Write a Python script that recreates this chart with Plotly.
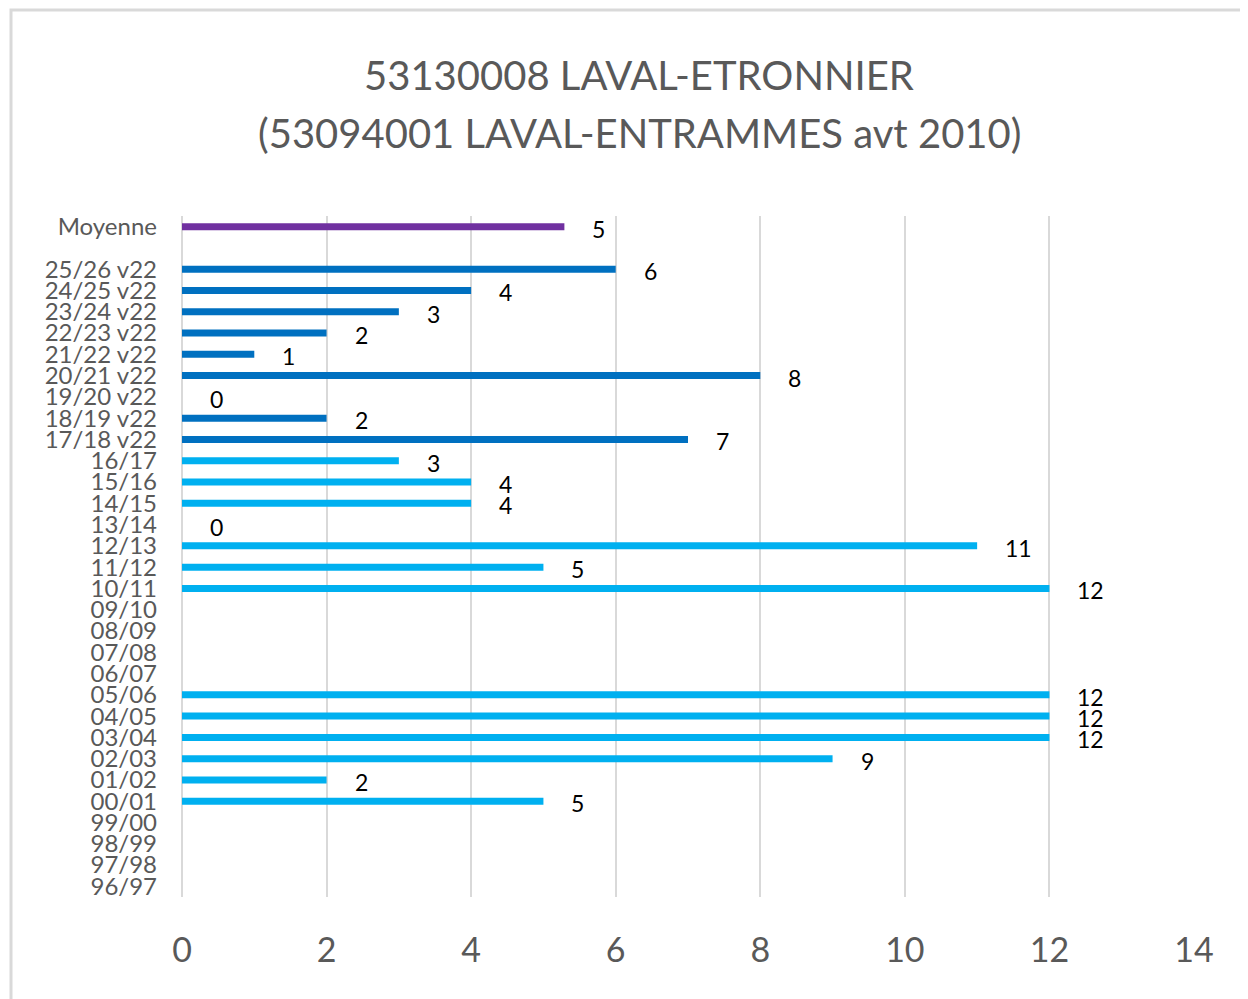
import plotly.graph_objects as go

# ---- data ----
seasons = ["96/97", "97/98", "98/99", "99/00", "00/01", "01/02", "02/03", "03/04",
           "04/05", "05/06", "06/07", "07/08", "08/09", "09/10", "10/11", "11/12",
           "12/13", "13/14", "14/15", "15/16", "16/17"]
season_values = [None, None, None, None, 5, 2, 9, 12, 12, 12, None, None, None, None,
                 12, 5, 11, 0, 4, 4, 3]

v22_seasons = ["17/18 v22", "18/19 v22", "19/20 v22", "20/21 v22", "21/22 v22",
               "22/23 v22", "23/24 v22", "24/25 v22", "25/26 v22"]
v22_values = [7, 2, 0, 8, 1, 2, 3, 4, 6]

mean_label = "Moyenne"
mean_value = 5.29
mean_text = "5"

title_line1 = "53130008 LAVAL-ETRONNIER"
title_line2 = "(53094001 LAVAL-ENTRAMMES avt 2010)"
x_ticks = [0, 2, 4, 6, 8, 10, 12, 14]

# ---- positions ----
pos_seasons = list(range(len(seasons)))
pos_v22 = [len(seasons) + i for i in range(len(v22_seasons))]
pos_mean = pos_v22[-1] + 2

FONT = "Lato"
GREY = "#595959"
BAR_W = 0.33
OFF = 8  # page body margin

fig = go.Figure()
fig.add_trace(go.Bar(x=season_values, y=pos_seasons, orientation="h",
                     width=BAR_W, marker=dict(color="#00B0F0", line_width=0),
                     showlegend=False))
fig.add_trace(go.Bar(x=v22_values, y=pos_v22, orientation="h",
                     width=BAR_W, marker=dict(color="#0070C0", line_width=0),
                     showlegend=False))
fig.add_trace(go.Bar(x=[mean_value], y=[pos_mean], orientation="h",
                     width=BAR_W, marker=dict(color="#7030A0", line_width=0),
                     showlegend=False))

annotations = []
def label(xv, yv, txt):
    annotations.append(dict(x=xv, y=yv, xref="x", yref="y", text=txt,
                            showarrow=False, xanchor="left", yanchor="middle",
                            xshift=26, yshift=-2,
                            font=dict(family=FONT, size=23, color="#000000")))

for xv, yv in zip(season_values, pos_seasons):
    if xv is not None:
        label(xv, yv, str(xv))
for xv, yv in zip(v22_values, pos_v22):
    label(xv, yv, str(xv))
label(mean_value, pos_mean, mean_text)

W, H = 1248 - OFF, 999 - OFF
L, T = 182 - OFF, 216 - OFF
R = W - (1194 - OFF)
B = H - (897 - OFF)
pw, ph = W - L - R, H - T - B
def px_x(px):
    return (px - OFF - L) / pw
def px_y(py):
    return (H - B - (py - OFF)) / ph

for txt, yc in [(title_line1, 75), (title_line2, 133)]:
    annotations.append(dict(x=px_x(639), y=px_y(yc), xref="paper", yref="paper",
                            text=txt, showarrow=False, xanchor="center",
                            yanchor="middle",
                            font=dict(family=FONT, size=40, color=GREY)))

fig.update_layout(
    width=W, height=H,
    margin=dict(l=L, r=R, t=T, b=B, autoexpand=False),
    paper_bgcolor="white", plot_bgcolor="white",
    barmode="overlay",
    annotations=annotations,
    shapes=[dict(type="rect", xref="paper", yref="paper",
                 x0=px_x(11), x1=px_x(1270), y0=px_y(1030), y1=px_y(10),
                 line=dict(color="#d9d9d9", width=3), fillcolor="rgba(0,0,0,0)",
                 layer="below")],
    xaxis=dict(range=[0, 14], tickvals=x_ticks, showgrid=True, gridcolor="#d9d9d9",
               gridwidth=2, zeroline=True, zerolinecolor="#d9d9d9", zerolinewidth=2,
               showline=False, ticks="", ticklabelstandoff=30,
               tickfont=dict(family=FONT, size=34, color=GREY)),
    yaxis=dict(range=[-0.5, pos_mean + 0.5],
               tickvals=pos_seasons + pos_v22 + [pos_mean],
               ticktext=seasons + v22_seasons + [mean_label],
               showgrid=False, zeroline=False, showline=False, ticks="",
               ticklabelstandoff=24,
               tickfont=dict(family=FONT, size=24, color=GREY)),
)

fig.write_html("out.html")
